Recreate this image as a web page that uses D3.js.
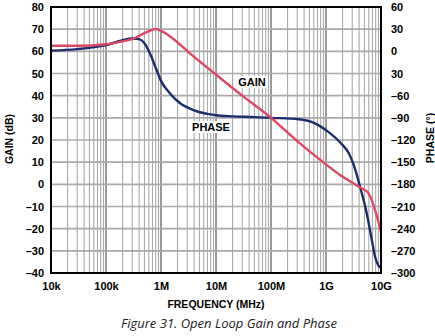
<!DOCTYPE html>
<html>
<head>
<meta charset="utf-8">
<script src="https://cdn.jsdelivr.net/npm/d3@7"></script>
<style>
  html, body { margin: 0; padding: 0; background: #fff; }
  svg { display: block; }
</style>
</head>
<body>
<svg id="chart" width="435" height="336"></svg>
<script>
// ---------- DATA ----------
const gainFreq = [1e4, 3e4, 1e5, 2e5, 3e5, 5e5, 6.5e5, 8e5, 1e6, 1.4e6, 2e6, 3.4e6, 1e7, 3e7, 1e8, 3e8, 1e9, 1.8e9, 2.5e9, 3.9e9, 5e9, 5.9e9, 7e9, 7.8e9, 9e9, 1e10];
const gainDb   = [62.5, 62.5, 63.2, 64.5, 65.5, 68.2, 69.5, 70, 69.2, 67, 64, 59, 49.5, 40, 30, 19.5, 9, 4.2, 2, -1, -2.5, -4, -8, -11.6, -17, -21.5];

const phaseFreq = [1e4, 3e4, 1e5, 2e5, 3e5, 4e5, 5e5, 6.3e5, 8e5, 1e6, 1.5e6, 2.2e6, 4e6, 1e7, 2e7, 5e7, 1e8, 3.2e8, 6.3e8, 1.1e9, 1.9e9, 2.6e9, 3.2e9, 4.15e9, 5.5e9, 6.8e9, 7.8e9, 9e9, 1e10];
const phaseDeg  = [1, 3, 8.5, 15, 17.3, 16.5, 11, -3, -22, -40, -58, -70, -80, -86.5, -88, -89, -90, -92, -97.5, -109, -125, -138, -154, -183, -219, -255, -278, -290, -293];

const xTickValues = [1e4, 1e5, 1e6, 1e7, 1e8, 1e9, 1e10];
const xTickLabels = ["10k", "100k", "1M", "10M", "100M", "1G", "10G"];
const gainTicks = [80, 70, 60, 50, 40, 30, 20, 10, 0, -10, -20, -30, -40];
const gainTickLabels = ["80", "70", "60", "50", "40", "30", "20", "10", "0", "–10", "–20", "–30", "–40"];
const phaseTicks = [60, 30, 0, -30, -60, -90, -120, -150, -180, -210, -240, -270, -300];
const phaseTickLabels = ["60", "30", "0", "30", "–60", "–90", "–120", "–150", "–180", "–210", "–240", "–270", "–300"];

// ---------- LAYOUT ----------
const W = 435, H = 336;
const m = { left: 51, right: 54, top: 7, bottom: 63 };
const pw = W - m.left - m.right, ph = H - m.top - m.bottom;

const svg = d3.select("#chart");
const g = svg.append("g").attr("transform", `translate(${m.left},${m.top})`);

const x = d3.scaleLog().domain([1e4, 1e10]).range([0, pw]);
const yG = d3.scaleLinear().domain([-40, 80]).range([ph, 0]);
const yP = d3.scaleLinear().domain([-300, 60]).range([ph, 0]);

const font = "'Liberation Sans', Arial, sans-serif";
const gridColor = "#a9a9a9";

// vertical grid (minor + decade)
const minor = [];
for (let e = 4; e < 10; e++) for (let k = 2; k <= 9; k++) minor.push(k * Math.pow(10, e));
g.append("g").selectAll("line").data(minor).join("line")
  .attr("x1", d => x(d)).attr("x2", d => x(d))
  .attr("y1", 0).attr("y2", ph)
  .attr("stroke", gridColor).attr("stroke-width", 1.1);
g.append("g").selectAll("line").data(xTickValues.slice(1, -1)).join("line")
  .attr("x1", d => x(d)).attr("x2", d => x(d))
  .attr("y1", 0).attr("y2", ph)
  .attr("stroke", "#999").attr("stroke-width", 2);

// horizontal grid
g.append("g").selectAll("line").data(gainTicks.slice(1, -1)).join("line")
  .attr("x1", 0).attr("x2", pw)
  .attr("y1", d => yG(d)).attr("y2", d => yG(d))
  .attr("stroke", gridColor).attr("stroke-width", 1.6);

// curves
const lineG = d3.line().x((d, i) => x(gainFreq[i])).y(d => yG(d)).curve(d3.curveMonotoneX);
const lineP = d3.line().x((d, i) => x(phaseFreq[i])).y(d => yP(d)).curve(d3.curveMonotoneX);

g.append("path").datum(phaseDeg).attr("d", lineP)
  .attr("fill", "none").attr("stroke", "#1c2d6c").attr("stroke-width", 2.4);
g.append("path").datum(gainDb).attr("d", lineG)
  .attr("fill", "none").attr("stroke", "#dc4763").attr("stroke-width", 2.4);

// frame
g.append("rect").attr("x", 0).attr("y", 0).attr("width", pw).attr("height", ph)
  .attr("fill", "none").attr("stroke", "#000").attr("stroke-width", 2);

// in-plot labels with white backgrounds
function boxedLabel(text, cx, cy) {
  const grp = g.append("g");
  const t = grp.append("text").attr("x", cx - m.left).attr("y", cy - m.top)
    .attr("text-anchor", "middle").attr("dominant-baseline", "central")
    .attr("font-family", font).attr("font-weight", "bold").attr("font-size", 11)
    .attr("fill", "#000").text(text);
  const bb = t.node().getBBox();
  grp.insert("rect", "text").attr("x", bb.x - 2).attr("y", bb.y).attr("width", bb.width + 4).attr("height", bb.height)
    .attr("fill", "#fff");
}
boxedLabel("GAIN", 252, 82);
boxedLabel("PHASE", 211, 127);

// axes
const axB = d3.axisBottom(x).tickValues(xTickValues).tickFormat((d, i) => xTickLabels[i]).tickSize(0).tickPadding(9);
const axL = d3.axisLeft(yG).tickValues(gainTicks).tickFormat((d, i) => gainTickLabels[i]).tickSize(0).tickPadding(7);
const axR = d3.axisRight(yP).tickValues(phaseTicks).tickFormat((d, i) => phaseTickLabels[i]).tickSize(0).tickPadding(10);

function styleAxis(sel) {
  sel.select(".domain").remove();
  sel.selectAll("text").attr("font-family", font).attr("font-weight", "bold")
    .attr("font-size", 11).attr("fill", "#000");
}
g.append("g").attr("transform", `translate(0,${ph})`).call(axB).call(styleAxis);
g.append("g").call(axL).call(styleAxis);
g.append("g").attr("transform", `translate(${pw},0)`).call(axR).call(styleAxis)
  .selectAll("text").attr("text-anchor", "start");

// axis titles
svg.append("text").attr("transform", "translate(12.5,139) rotate(-90)")
  .attr("text-anchor", "middle").attr("font-family", font).attr("font-weight", "bold")
  .attr("font-size", 10.5).attr("fill", "#000").text("GAIN (dB)");
svg.append("text").attr("transform", "translate(433.5,138) rotate(-90)")
  .attr("text-anchor", "middle").attr("font-family", font).attr("font-weight", "bold")
  .attr("font-size", 10.5).attr("fill", "#000").text("PHASE (°)");
svg.append("text").attr("x", 216).attr("y", 308)
  .attr("text-anchor", "middle").attr("font-family", font).attr("font-weight", "bold")
  .attr("font-size", 10.5).attr("fill", "#000").text("FREQUENCY (MHz)");
svg.append("text").attr("x", 229).attr("y", 328)
  .attr("text-anchor", "middle").attr("font-family", "'Open Sans', sans-serif").attr("font-style", "italic")
  .attr("font-size", 13).attr("fill", "#222").text("Figure 31. Open Loop Gain and Phase");
</script>
</body>
</html>
